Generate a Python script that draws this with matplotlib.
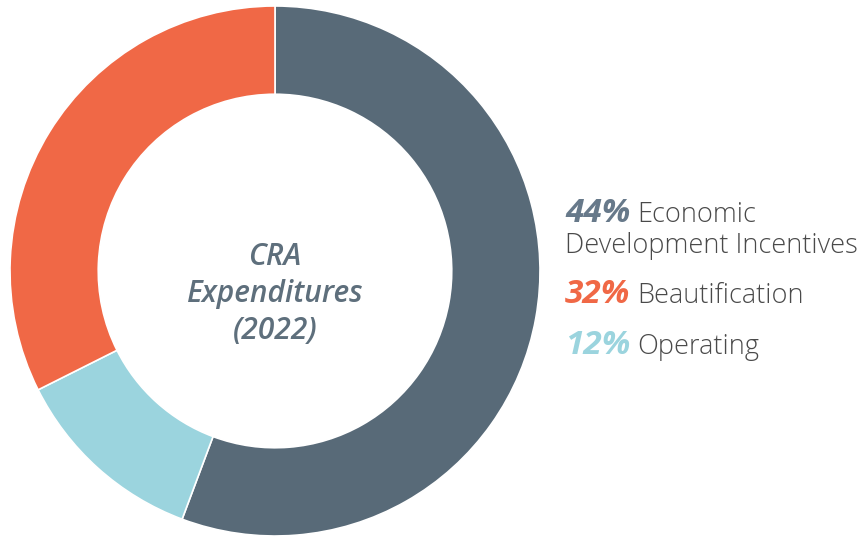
import matplotlib.pyplot as plt

# Slice sizes as drawn (clockwise from 12 o'clock)
categories = ["Economic Development Incentives", "Operating", "Beautification"]
shares = [55.7, 11.9, 32.4]
colors = ["#586a78", "#9bd4de", "#f06846"]

# Legend entries as printed on the chart
legend_pcts = ["44%", "32%", "12%"]
legend_first = ["Economic", "Beautification", "Operating"]
legend_second = ["Development Incentives", "", ""]
legend_colors = ["#67798a", "#f06846", "#9bd4de"]

center_title = "CRA\nExpenditures\n(2022)"

W, H = 867, 537
plt.rcParams["font.family"] = ["Open Sans", "DejaVu Sans"]
fig = plt.figure(figsize=(W / 100, H / 100), dpi=100)

# donut axes (pixel box -> figure fraction)
cx, cy, r = 275, 271, 265
ax = fig.add_axes([(cx - r) / W, (H - cy - r) / H, 2 * r / W, 2 * r / H])
ax.pie(
    shares,
    colors=colors,
    startangle=90,
    counterclock=False,
    radius=1,
    wedgeprops=dict(width=0.333, edgecolor="white", linewidth=1.2),
)
ax.set_aspect("equal")
ax.set_xlim(-1, 1)
ax.set_ylim(-1, 1)

# centre title, one line per row
for i, line in enumerate(center_title.split("\n")):
    yb = 265 + 37 * i
    fig.text(cx / W, 1 - yb / H, line, ha="center", va="baseline", fontsize=21.5,
             style="italic", fontweight="semibold", color="#5e6f7c")

# legend on the right, built from text pieces
renderer = fig.canvas.get_renderer()
x0 = 565
baselines = [222, 303, 354]
for pct, first, second, col, yb in zip(legend_pcts, legend_first, legend_second,
                                       legend_colors, baselines):
    t = fig.text(x0 / W, 1 - yb / H, pct, fontsize=24, style="italic",
                 fontweight="bold", color=col, va="baseline", ha="left")
    x1 = t.get_window_extent(renderer).x1
    fig.text((x1 + 7) / W, 1 - yb / H, first, fontsize=19.5, color="#4a4a4a",
             fontweight="light", va="baseline", ha="left")
    if second:
        fig.text(x0 / W, 1 - (yb + 31) / H, second, fontsize=19.5,
                 fontweight="light", color="#4a4a4a", va="baseline", ha="left")

fig.savefig("out.png", dpi=100)
